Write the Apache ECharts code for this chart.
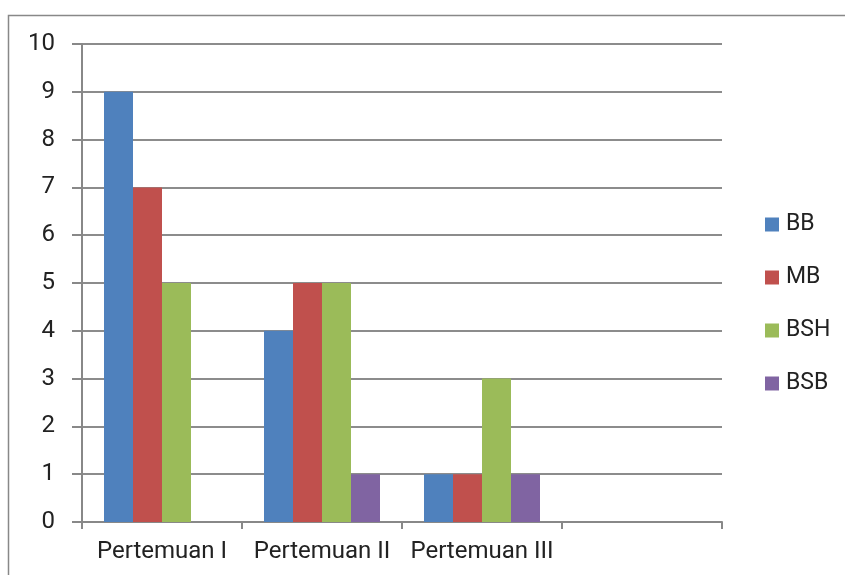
<!DOCTYPE html>
<html>
<head>
<meta charset="utf-8">
<script src="https://cdn.jsdelivr.net/npm/echarts@6/dist/echarts.min.js"></script>
<style>
  html, body { margin: 0; padding: 0; background: #fff; }
  #chart { width: 845px; height: 575px; }
</style>
</head>
<body>
<div id="chart"></div>
<script>
// Meetings on the x axis (the last slot is left empty)
const categories = ['Pertemuan I', 'Pertemuan II', 'Pertemuan III', ''];
const seriesNames = ['BB', 'MB', 'BSH', 'BSB'];
const valuesBB  = [9, 4, 1, null];
const valuesMB  = [7, 5, 1, null];
const valuesBSH = [5, 5, 3, null];
const valuesBSB = [0, 1, 1, null];
const colors = ['#4F81BD', '#C0504D', '#9BBB59', '#8064A2'];

const seriesValues = [valuesBB, valuesMB, valuesBSH, valuesBSB];

const chart = echarts.init(document.getElementById('chart'));
chart.setOption({
  animation: false,
  textStyle: { fontFamily: 'Roboto' },
  graphic: [{
    type: 'rect',
    shape: { x: 8.5, y: 15.5, width: 900, height: 700 },
    style: { fill: 'none', stroke: '#888', lineWidth: 1.5 },
    silent: true
  }],
  grid: { left: 82, right: 123, top: 44, bottom: 53 },
  legend: {
    orient: 'vertical',
    left: 760,
    top: 208,
    itemWidth: 14,
    itemHeight: 14,
    itemGap: 30,
    icon: 'rect',
    textStyle: { fontSize: 23, color: '#222', fontFamily: 'Roboto', padding: [0, 0, 0, 2] },
    data: seriesNames
  },
  xAxis: {
    type: 'category',
    data: categories,
    axisLine: { lineStyle: { color: '#888', width: 2 } },
    axisTick: { show: true, length: 7, lineStyle: { color: '#888', width: 2 } },
    axisLabel: { fontSize: 24, color: '#222', margin: 18, interval: 0 },
    splitLine: { show: false }
  },
  yAxis: {
    type: 'value',
    min: 0,
    max: 10,
    interval: 1,
    axisLine: { show: true, lineStyle: { color: '#888', width: 2 } },
    axisTick: { show: true, length: 10, lineStyle: { color: '#888', width: 2 } },
    axisLabel: { fontSize: 24, color: '#222', margin: 27 },
    splitLine: { show: true, lineStyle: { color: '#8c8c8c', width: 2 } }
  },
  series: seriesNames.map((name, i) => ({
    name: name,
    type: 'bar',
    data: seriesValues[i],
    barWidth: 29,
    barGap: '0%',
    itemStyle: { color: colors[i] }
  }))
});
</script>
</body>
</html>
